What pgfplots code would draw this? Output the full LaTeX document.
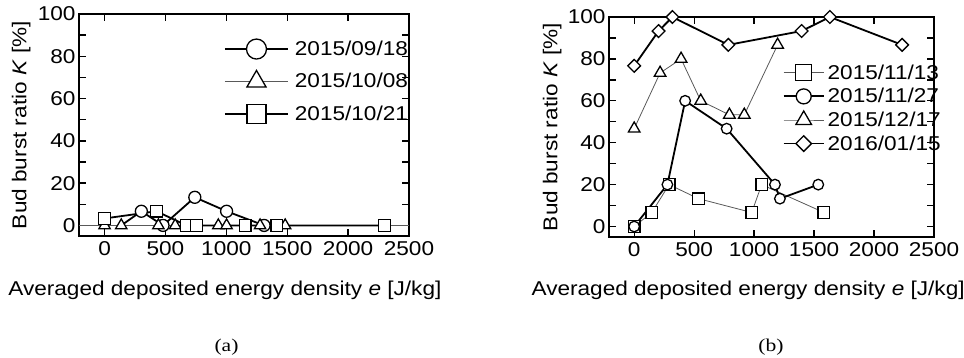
\documentclass[border=0pt]{standalone}
\usepackage{fontspec}
\setmainfont{Liberation Sans}[FakeStretch=1.13]
\newfontfamily\capfont{Liberation Serif}[FakeStretch=1.2]
\usepackage{pgfplots}
\pgfplotsset{compat=1.18}
\newcommand\bigf{\fontsize{20bp}{24bp}\selectfont}
\pgfplotsset{
  budaxis/.style={
    scale only axis, anchor=south west,
    xmin=-210, xmax=2500, ymin=-5, ymax=100,
    xtick={0,500,...,2500}, ytick={0,20,...,100}, minor ytick={10,30,...,90},
    tick align=inside, major tick length=7bp, minor tick length=7bp,
    every tick/.style={black, line width=1.3bp},
    axis line style={line width=1.5bp},
    font=\bigf,
    /pgf/number format/assume math mode=true,
    /pgf/number format/1000 sep={},
    scaled ticks=false,
    xticklabel style={yshift=-2bp},
    xlabel={Averaged deposited energy density \textit{e} [J/kg]},
    ylabel={Bud burst ratio \textit{K} [\%]},
    ylabel style={at={(axis description cs:-0.175,0.5)}, anchor=center},
    legend cell align=left,
  },
  thickser/.style={black, line width=1.8bp, mark options={fill=white, draw=black, line width=1.3bp, solid}},
  thinser/.style={black!65, line width=0.8bp, mark options={fill=white, draw=black, line width=1.3bp, solid}},
  diamser/.style={black, line width=1.8bp, mark=square*, mark options={fill=white, draw=black, line width=1.3bp, solid, rotate=45}},
}
\begin{document}
\begin{tikzpicture}
\path[use as bounding box] (0,0) rectangle (964bp,358bp);
% ---------- (a) ----------
\begin{axis}[budaxis, at={(79bp,122bp)}, width=330bp, height=222bp,
  xlabel style={at={(axis description cs:0.442,-0.266)}, anchor=base},
  legend style={draw=none, fill=none, at={(0.43,0.925)}, anchor=north west, font=\bigf,
    row sep=0bp, column sep=4bp, nodes={text height=15bp, text depth=2bp, inner ysep=7.7bp, inner xsep=2bp}},
  legend image code/.code={\draw[mark repeat=2,mark phase=2] plot coordinates {(0bp,0bp)(31.5bp,0bp)(63bp,0bp)};},
]
\addlegendimage{thickser, mark=*, mark size=10bp}
\addlegendentry{2015/09/18}
\addlegendimage{thinser, mark=triangle*, mark size=11bp}
\addlegendentry{2015/10/08}
\addlegendimage{thickser, mark=square*, mark size=9.5bp}
\addlegendentry{2015/10/21}
\addplot[black!65, line width=0.8bp, forget plot] coordinates {(-210,0) (2500,0)};
\addplot[thickser, mark=*, mark size=6bp, mark indices={2,3,4,5,6}, forget plot] coordinates {
(137,0) (302,6.7) (480,0) (741,13.3) (1002,6.7) (1310,0)};
\addplot[thinser, mark=triangle*, mark size=6.5bp, forget plot] coordinates {
(0,0) (137,0) (442,0) (580,0) (934,0) (1002,0) (1277,0) (1483,0)};
\addplot[thickser, mark=square*, mark size=5.8bp, forget plot] coordinates {
(0,3.3) (426,6.7) (672,0) (755,0) (1155,0) (1414,0) (2300,0)};
\end{axis}
% ---------- (b) ----------
\begin{axis}[budaxis, at={(609bp,121bp)}, width=325bp, height=220bp,
  xlabel style={at={(axis description cs:0.428,-0.264)}, anchor=base},
  legend style={draw=none, fill=none, at={(0.525,0.81)}, anchor=north west, font=\bigf,
    row sep=0bp, column sep=1bp, nodes={text height=15bp, text depth=2bp, inner ysep=3.3bp, inner xsep=2bp}},
  legend image code/.code={\draw[mark repeat=2,mark phase=2] plot coordinates {(0bp,0bp)(20bp,0bp)(40bp,0bp)};},
]
\addlegendimage{thinser, mark=square*, mark size=8bp}
\addlegendentry{2015/11/13}
\addlegendimage{thickser, mark=*, mark size=7.5bp}
\addlegendentry{2015/11/27}
\addlegendimage{thinser, mark=triangle*, mark size=9bp}
\addlegendentry{2015/12/17}
\addlegendimage{diamser, mark size=5.5bp}
\addlegendentry{2016/01/15}
\addplot[thinser, mark=square*, mark size=5.8bp, forget plot] coordinates {
(0,0) (147,6.7) (291,20) (536,13.3) (980,6.7) (1063,20) (1582,6.7)};
\addplot[thickser, mark=*, mark size=5.3bp, forget plot] coordinates {
(0,0) (277,20) (425,60) (771,46.7) (1174,20) (1215,13.3) (1535,20)};
\addplot[thinser, mark=triangle*, mark size=6.7bp, forget plot] coordinates {
(0,46.7) (216,73.3) (391,80) (555,60) (794,53.3) (918,53.3) (1196,86.7)};
\addplot[diamser, mark size=4.5bp, forget plot] coordinates {
(0,76.7) (203,93.3) (319,100) (785,86.7) (1396,93.3) (1632,100) (2234,86.7)};
\end{axis}
\node[anchor=base, font=\capfont\fontsize{18bp}{22bp}\selectfont] at (226.5bp,6.3bp) {(a)};
\node[anchor=base, font=\capfont\fontsize{18bp}{22bp}\selectfont] at (771bp,6.3bp) {(b)};
\end{tikzpicture}
\end{document}
